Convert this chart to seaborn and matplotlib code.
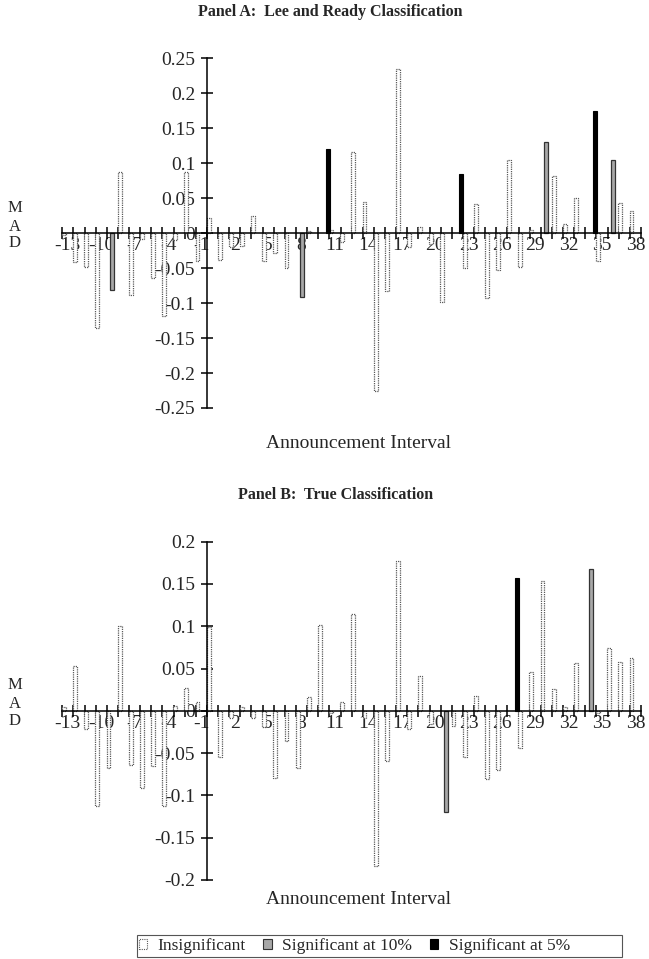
import numpy as np
import pandas as pd
import matplotlib
matplotlib.use("Agg")
import matplotlib.pyplot as plt
import seaborn as sns
from matplotlib.patches import Patch, Rectangle

# ---------------------------------------------------------------------------
# Data
# ---------------------------------------------------------------------------
intervals = [-13, -12, -11, -10, -9, -8, -7, -6, -5, -4, -3, -2, -1,
             0, 1, 2, 3, 4, 5, 6, 7, 8, 9, 10, 11, 12,
             13, 14, 15, 16, 17, 18, 19, 20, 21, 22, 23, 24, 25,
             26, 27, 28, 29, 30, 31, 32, 33, 34, 35, 36, 37, 38]

# Panel A: Lee and Ready classification
mad_a = [-0.003, -0.041, -0.048, -0.136, -0.081, 0.087, -0.088, -0.008, -0.064, -0.118, -0.010, 0.087, -0.040,
         0.022, -0.038, -0.020, -0.018, 0.025, -0.040, -0.029, -0.050, -0.091, 0.003, 0.121, 0.004, -0.013,
         0.116, 0.044, -0.226, -0.082, 0.235, -0.020, 0.009, -0.015, -0.099, 0.085, -0.050, 0.041, -0.093,
         -0.052, 0.105, -0.048, 0.005, 0.130, 0.081, 0.013, 0.050, 0.175, -0.040, 0.105, 0.043, 0.032]
a_sig10 = [-9, 8, 30, 36]
a_sig5 = [10, 22, 34]

# Panel B: true classification
mad_b = [0.004, 0.053, -0.021, -0.113, -0.067, 0.100, -0.064, -0.091, -0.065, -0.113, 0.006, 0.027, 0.011,
         0.099, -0.055, -0.009, 0.005, -0.008, -0.019, -0.079, -0.036, -0.068, 0.016, 0.101, -0.003, 0.011,
         0.114, -0.009, -0.183, -0.059, 0.177, -0.021, 0.041, -0.015, -0.120, -0.018, -0.054, 0.017, -0.081,
         -0.070, 0.157, -0.044, 0.046, 0.153, 0.026, 0.005, 0.056, 0.168, -0.003, 0.074, 0.058, 0.062]
b_sig10 = [21, 34]
b_sig5 = [27]

xtick_labels = [-13, -10, -7, -4, -1, 2, 5, 8, 11, 14, 17, 20, 23, 26, 29, 32, 35, 38]
yticks_a = [-0.25, -0.2, -0.15, -0.1, -0.05, 0, 0.05, 0.1, 0.15, 0.2, 0.25]
yticks_b = [-0.2, -0.15, -0.1, -0.05, 0, 0.05, 0.1, 0.15, 0.2]

levels = ["Insignificant", "Significant at 10%", "Significant at 5%"]
colors = {"Insignificant": "white", "Significant at 10%": "#a8a8a8", "Significant at 5%": "black"}
edges = {"Insignificant": "#5a5a5a", "Significant at 10%": "#333333", "Significant at 5%": "black"}

W, H = 649, 959


def make_frame(values, sig10, sig5):
    df = pd.DataFrame({"interval": intervals, "mad": values})
    df["sig"] = levels[0]
    df.loc[df["interval"].isin(sig10), "sig"] = levels[1]
    df.loc[df["interval"].isin(sig5), "sig"] = levels[2]
    return df


def fmt(v):
    s = f"{v:g}"
    return "0" if s in ("0", "-0") else s


def draw_panel(ax, df, yticks):
    sns.barplot(data=df, x="interval", y="mad", hue="sig", hue_order=levels,
                palette=colors, dodge=True, width=1.05, saturation=1,
                errorbar=None, legend=False, ax=ax)
    # restyle bars by fill colour
    for p in ax.patches:
        fc = matplotlib.colors.to_hex(p.get_facecolor())
        if fc == "#ffffff":
            p.set_edgecolor(edges[levels[0]])
            p.set_linestyle((0, (1, 0.8)))
            p.set_linewidth(0.9)
        elif fc == "#000000":
            p.set_edgecolor("black")
            p.set_linewidth(0.8)
        else:
            p.set_edgecolor(edges[levels[1]])
            p.set_linewidth(0.9)

    n = len(intervals)
    ax.set_xlim(-0.5, n - 0.5)
    ax.set_ylim(yticks[0], yticks[-1])
    ax.set_xlabel("")
    ax.set_ylabel("")
    ax.set_facecolor("none")

    for side in ("top", "right"):
        ax.spines[side].set_visible(False)
    ax.spines["left"].set_position(("data", intervals.index(0) - 0.5))
    ax.spines["bottom"].set_position(("data", 0))
    for side in ("left", "bottom"):
        ax.spines[side].set_color("black")
        ax.spines[side].set_linewidth(1.1)

    pos = [intervals.index(v) for v in xtick_labels]
    ax.set_xticks(pos)
    ax.set_xticklabels([str(v) for v in xtick_labels])
    ax.set_xticks(np.arange(-0.5, n, 1.0), minor=True)
    ax.tick_params(axis="x", which="both", bottom=True, top=False)
    ax.tick_params(axis="x", which="major", length=0, pad=3, labelsize=14)
    ax.tick_params(axis="x", which="minor", length=8, width=1.1,
                   direction="inout", color="black")

    ax.set_yticks(yticks)
    ax.set_yticklabels([fmt(v) for v in yticks])
    ax.tick_params(axis="y", which="major", left=True, right=False, length=9,
                   width=1.1, direction="inout", pad=4, labelsize=14,
                   color="black")
    ax.grid(False)


sns.set_style("white")
plt.rcParams["font.family"] = ["Liberation Serif", "DejaVu Serif"]
plt.rcParams["axes.unicode_minus"] = False

fig = plt.figure(figsize=(W / 100, H / 100), dpi=100)

left = 62.3 / W
width = (641.0 - 62.3) / W
ax_a = fig.add_axes([left, 1 - 408 / H, width, (408 - 58.3) / H])
ax_b = fig.add_axes([left, 1 - 880 / H, width, (880 - 541.7) / H])

draw_panel(ax_a, make_frame(mad_a, a_sig10, a_sig5), yticks_a)
draw_panel(ax_b, make_frame(mad_b, b_sig10, b_sig5), yticks_b)

# titles and axis texts
fig.text(330 / W, 1 - 12 / H, "Panel A:  Lee and Ready Classification",
         ha="center", va="center", fontsize=11.5, fontweight="bold")
fig.text(336 / W, 1 - 495 / H, "Panel B:  True Classification",
         ha="center", va="center", fontsize=11.5, fontweight="bold")
fig.text(359 / W, 1 - 443 / H, "Announcement Interval",
         ha="center", va="center", fontsize=14)
fig.text(359 / W, 1 - 900 / H, "Announcement Interval",
         ha="center", va="center", fontsize=14)

for letter, ya, yb in zip("MAD", [207.5, 227, 243], [685, 703.5, 721]):
    fig.text(15 / W, 1 - ya / H, letter, ha="center", va="center", fontsize=12)
    fig.text(15 / W, 1 - yb / H, letter, ha="center", va="center", fontsize=12)

# legend: entries without frame, box drawn separately to match the wide frame
handles = [Patch(facecolor=colors[lv], edgecolor=edges[lv], linewidth=0.8,
                 linestyle=(0, (1, 1)) if lv == levels[0] else "-")
           for lv in levels]
leg = fig.legend(handles, levels, ncol=3, loc="center left",
                 bbox_to_anchor=(136 / W, 1 - 946 / H),
                 frameon=False, fontsize=12.5, handlelength=0.5,
                 handleheight=0.5, handletextpad=0.6, columnspacing=1.0,
                 borderpad=0.15, borderaxespad=0)
fig.patches.append(Rectangle((137 / W, 1 - 957 / H), (622 - 137) / W, 22 / H,
                             transform=fig.transFigure, facecolor="none",
                             edgecolor="#555555", linewidth=0.8))

fig.savefig("out.png", dpi=100, facecolor="white")
